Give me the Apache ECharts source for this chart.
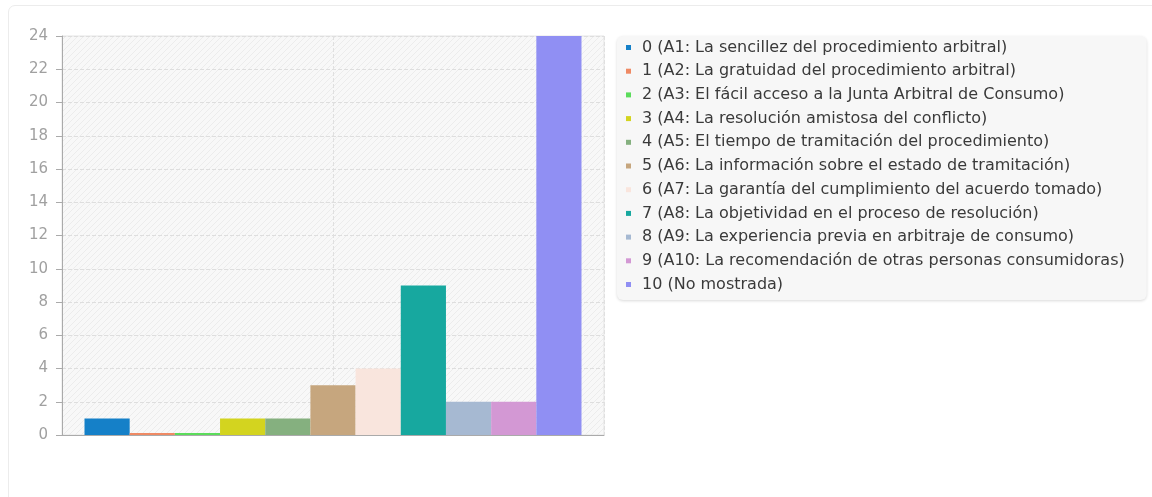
<!DOCTYPE html>
<html>
<head>
<meta charset="utf-8">
<script src="https://cdn.jsdelivr.net/npm/echarts@6/dist/echarts.min.js"></script>
<style>
  html, body { margin: 0; padding: 0; background: #fff; }
  #card { position: absolute; left: 8px; top: 5px; width: 1160px; height: 520px;
          border: 1px solid #ececec; border-radius: 7px; box-sizing: border-box; }
  #main { position: absolute; left: 0; top: 0; width: 1152px; height: 497px; }
</style>
</head>
<body>
<div id="card"></div>
<div id="main"></div>
<script>
// datos del gráfico
var seriesNames = [
    '0 (A1: La sencillez del procedimiento arbitral)',
    '1 (A2: La gratuidad del procedimiento arbitral)',
    '2 (A3: El fácil acceso a la Junta Arbitral de Consumo)',
    '3 (A4: La resolución amistosa del conflicto)',
    '4 (A5: El tiempo de tramitación del procedimiento)',
    '5 (A6: La información sobre el estado de tramitación)',
    '6 (A7: La garantía del cumplimiento del acuerdo tomado)',
    '7 (A8: La objetividad en el proceso de resolución)',
    '8 (A9: La experiencia previa en arbitraje de consumo)',
    '9 (A10: La recomendación de otras personas consumidoras)',
    '10 (No mostrada)'
];
var seriesValues = [1, 0, 0, 1, 1, 3, 4, 9, 2, 2, 24];
var seriesColors = ['#1580c8', '#ef8a64', '#5bdc5b', '#d3d41f', '#85b07f', '#c6a67e',
                    '#f9e5dd', '#17a89f', '#a6b9d2', '#d398d4', '#908ff3'];
var categories = [''];
var yTicks = {min: 0, max: 24, interval: 2};

// fondo rayado del área del gráfico
function hatch() {
    var c = document.createElement('canvas');
    c.width = 6; c.height = 6;
    var ctx = c.getContext('2d');
    ctx.fillStyle = '#f8f8f8';
    ctx.fillRect(0, 0, 6, 6);
    ctx.strokeStyle = '#ececec';
    ctx.lineWidth = 1;
    ctx.beginPath();
    ctx.moveTo(-1, 7); ctx.lineTo(7, -1);
    ctx.moveTo(-1, 1); ctx.lineTo(1, -1);
    ctx.moveTo(5, 7); ctx.lineTo(7, 5);
    ctx.stroke();
    return c;
}

var myChart = echarts.init(document.getElementById('main'));

var temp_series = [];
for (var i = 0; i < seriesValues.length; i++) {
    temp_series.push({
        name: seriesNames[i],
        type: 'bar',
        barGap: '0%',
        barCategoryGap: '8.3%',
        barMinHeight: 2,
        itemStyle: {
            color: seriesColors[i]
        },
        data: [seriesValues[i]]
    });
}

var option = {
    backgroundColor: 'transparent',
    animation: false,
    color: seriesColors,
    textStyle: {fontFamily: 'DejaVu Sans'},
    grid: {
        left: 62, top: 36, right: 548, bottom: 62,
        show: true,
        borderColor: '#e4e4e4',
        borderWidth: 1,
        backgroundColor: {image: hatch(), repeat: 'repeat'}
    },
    legend: {
        orient: 'vertical',
        left: 617,
        top: 36,
        padding: [2, 22, 6, 9],
        icon: 'rect',
        itemWidth: 5,
        itemHeight: 5,
        itemGap: 4.7,
        backgroundColor: '#f7f7f7',
        borderRadius: 6,
        shadowBlur: 3,
        shadowColor: 'rgba(0,0,0,0.15)',
        shadowOffsetY: 1,
        textStyle: {
            fontSize: 16,
            color: '#3a3a3a',
            lineHeight: 19,
            padding: [0, 0, 0, 6]
        },
        data: seriesNames
    },
    xAxis: [
        {
            type: 'category',
            data: categories,
            axisLine: {lineStyle: {color: '#aaa'}},
            axisTick: {show: false},
            axisLabel: {show: false},
            splitLine: {show: false}
        },
        {
            type: 'value',
            min: 0, max: 2, interval: 1,
            position: 'bottom',
            axisLine: {show: false},
            axisTick: {show: false},
            axisLabel: {show: false},
            splitLine: {show: true, lineStyle: {color: '#e0e0e0', type: 'dashed'}}
        }
    ],
    yAxis: {
        type: 'value',
        min: yTicks.min,
        max: yTicks.max,
        interval: yTicks.interval,
        axisLine: {show: true, lineStyle: {color: '#aaa'}},
        axisTick: {show: true, length: 6, lineStyle: {color: '#aaa'}},
        axisLabel: {color: '#a0a0a0', fontSize: 15, margin: 14},
        splitLine: {show: true, lineStyle: {color: '#dedede', type: 'dashed'}}
    },
    series: temp_series
};

myChart.setOption(option);
</script>
</body>
</html>
